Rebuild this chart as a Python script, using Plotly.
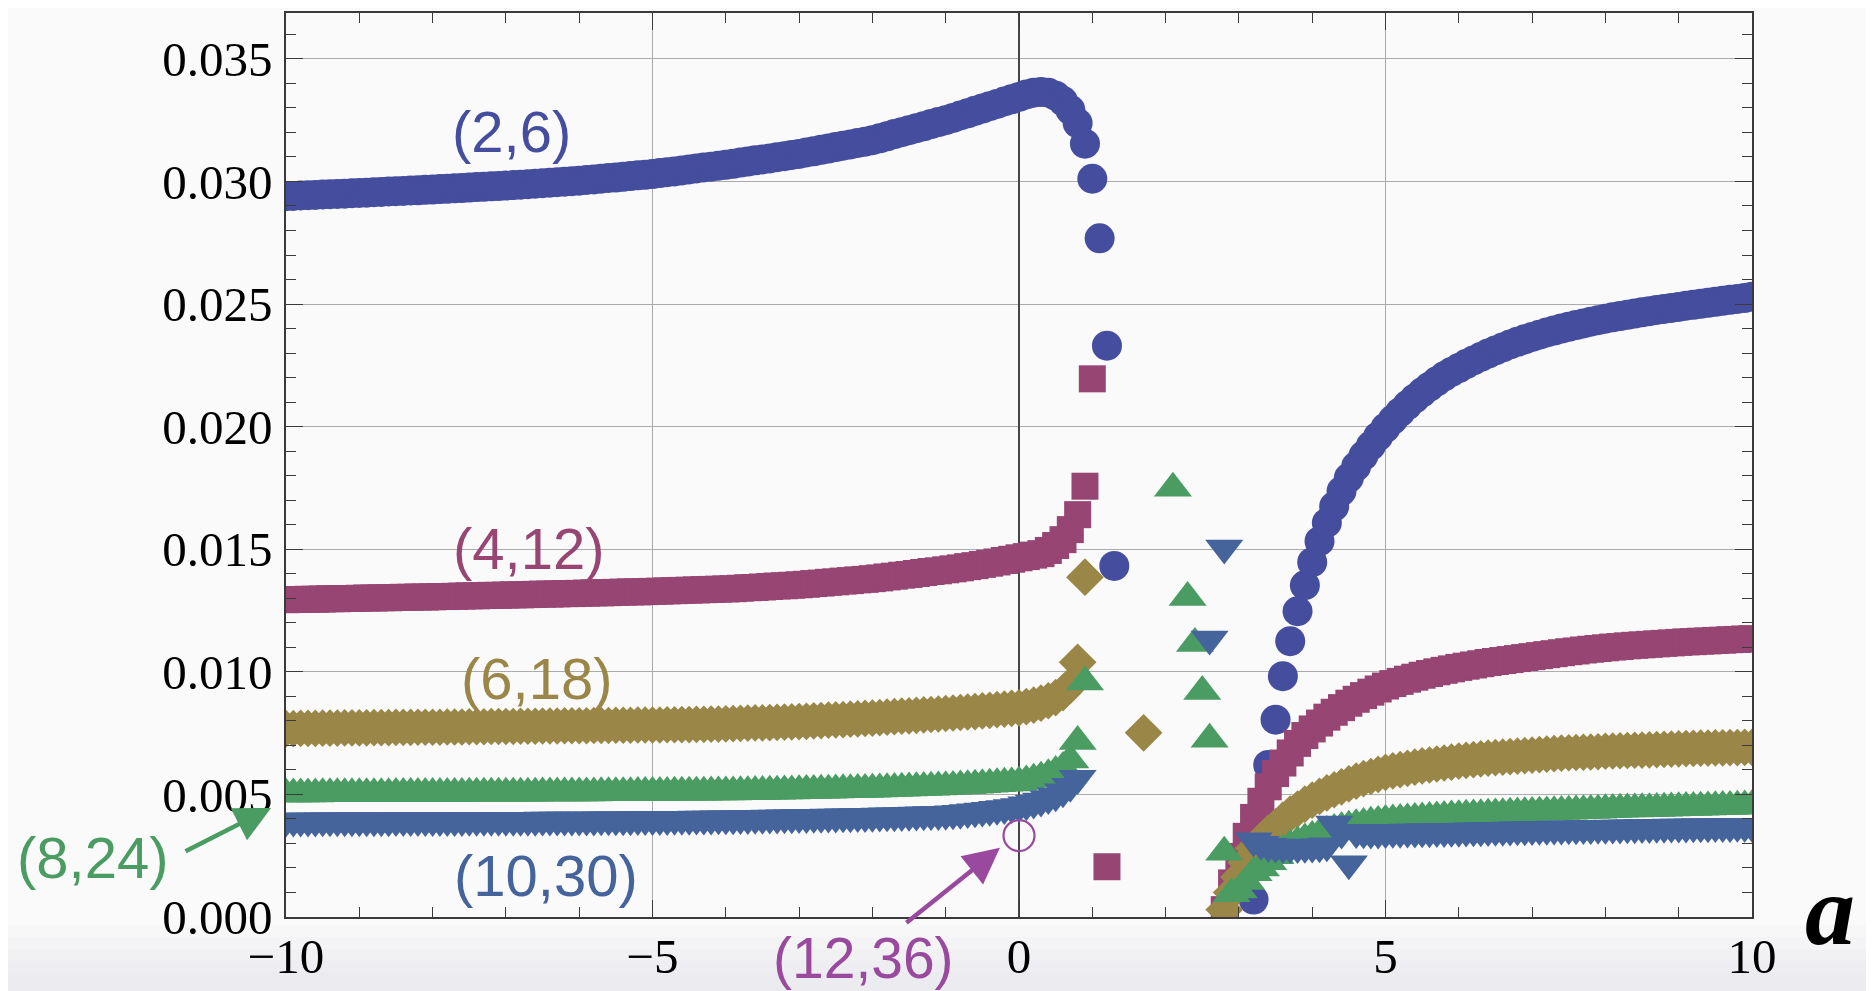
import plotly.graph_objects as go

# ---------------- data ----------------
# sampling grid of the parameter a (step 0.1, from -10 to 10)
a_grid = [round(-10 + 0.1 * i, 1) for i in range(201)]

# (2,6)  circles
n2_6 = [
    0.02940, 0.02941, 0.02943, 0.02944, 0.02945, 0.02947, 0.02948, 0.02949, 0.02950, 0.02952,
    0.02953, 0.02954, 0.02956, 0.02957, 0.02959, 0.02960, 0.02961, 0.02963, 0.02964, 0.02966,
    0.02967, 0.02969, 0.02970, 0.02972, 0.02973, 0.02975, 0.02977, 0.02978, 0.02980, 0.02981,
    0.02983, 0.02985, 0.02987, 0.02989, 0.02991, 0.02993, 0.02995, 0.02997, 0.02999, 0.03001,
    0.03003, 0.03006, 0.03008, 0.03011, 0.03014, 0.03016, 0.03019, 0.03022, 0.03025, 0.03027,
    0.03030, 0.03034, 0.03038, 0.03041, 0.03045, 0.03049, 0.03053, 0.03057, 0.03060, 0.03064,
    0.03068, 0.03072, 0.03077, 0.03081, 0.03086, 0.03090, 0.03094, 0.03099, 0.03103, 0.03108,
    0.03112, 0.03118, 0.03123, 0.03129, 0.03134, 0.03140, 0.03146, 0.03151, 0.03157, 0.03162,
    0.03168, 0.03176, 0.03184, 0.03193, 0.03201, 0.03209, 0.03217, 0.03225, 0.03234, 0.03242,
    0.03250, 0.03259, 0.03269, 0.03278, 0.03288, 0.03297, 0.03307, 0.03316, 0.03326, 0.03335,
    0.03345, 0.03355, 0.03362, 0.03365, 0.03362, 0.03350, 0.03328, 0.03292, 0.03238, 0.03154,
    0.03011, 0.02768, 0.02330, 0.01432, None, None, None, None, None, None,
    None, None, None, None, None, None, None, None, None, None,
    None, None, 0.00071, 0.00400, 0.00620, 0.00805, 0.00982, 0.01125, 0.01247, 0.01353,
    0.01447, 0.01533, 0.01608, 0.01675, 0.01737, 0.01791, 0.01838, 0.01882, 0.01922, 0.01960,
    0.01995, 0.02028, 0.02059, 0.02088, 0.02115, 0.02140, 0.02163, 0.02185, 0.02205, 0.02223,
    0.02239, 0.02255, 0.02270, 0.02284, 0.02298, 0.02311, 0.02323, 0.02335, 0.02346, 0.02356,
    0.02366, 0.02375, 0.02384, 0.02392, 0.02400, 0.02407, 0.02414, 0.02421, 0.02428, 0.02434,
    0.02440, 0.02446, 0.02451, 0.02456, 0.02461, 0.02466, 0.02471, 0.02476, 0.02480, 0.02484,
    0.02488, 0.02493, 0.02497, 0.02501, 0.02505, 0.02509, 0.02513, 0.02517, 0.02521, 0.02525,
    0.02530,
]

# (4,12)  squares
n4_12 = [
    0.01294, 0.01295, 0.01295, 0.01296, 0.01296, 0.01297, 0.01298, 0.01298, 0.01299, 0.01299,
    0.01300, 0.01301, 0.01301, 0.01302, 0.01302, 0.01303, 0.01304, 0.01304, 0.01305, 0.01305,
    0.01306, 0.01307, 0.01307, 0.01308, 0.01309, 0.01310, 0.01310, 0.01311, 0.01312, 0.01312,
    0.01313, 0.01314, 0.01314, 0.01315, 0.01316, 0.01317, 0.01317, 0.01318, 0.01319, 0.01319,
    0.01320, 0.01321, 0.01322, 0.01322, 0.01323, 0.01324, 0.01325, 0.01326, 0.01326, 0.01327,
    0.01328, 0.01329, 0.01330, 0.01331, 0.01332, 0.01333, 0.01334, 0.01335, 0.01336, 0.01337,
    0.01338, 0.01339, 0.01341, 0.01343, 0.01344, 0.01346, 0.01348, 0.01350, 0.01351, 0.01353,
    0.01355, 0.01357, 0.01360, 0.01362, 0.01365, 0.01367, 0.01370, 0.01372, 0.01375, 0.01377,
    0.01380, 0.01383, 0.01387, 0.01390, 0.01394, 0.01397, 0.01401, 0.01405, 0.01409, 0.01412,
    0.01416, 0.01420, 0.01424, 0.01429, 0.01433, 0.01438, 0.01443, 0.01448, 0.01454, 0.01459,
    0.01465, 0.01470, 0.01476, 0.01482, 0.01495, 0.01515, 0.01539, 0.01580, 0.01641, 0.01757,
    0.02195, None, 0.00205, None, None, None, None, None, None, None,
    None, None, None, None, None, None, None, None, 0.00030, 0.00139,
    0.00247, 0.00329, 0.00406, 0.00472, 0.00531, 0.00585, 0.00628, 0.00669, 0.00708, 0.00740,
    0.00767, 0.00791, 0.00815, 0.00835, 0.00854, 0.00872, 0.00888, 0.00903, 0.00917, 0.00930,
    0.00942, 0.00952, 0.00961, 0.00970, 0.00978, 0.00986, 0.00993, 0.01000, 0.01006, 0.01012,
    0.01018, 0.01023, 0.01028, 0.01033, 0.01038, 0.01042, 0.01046, 0.01050, 0.01054, 0.01058,
    0.01062, 0.01066, 0.01070, 0.01074, 0.01078, 0.01082, 0.01085, 0.01089, 0.01092, 0.01095,
    0.01098, 0.01101, 0.01103, 0.01106, 0.01108, 0.01110, 0.01112, 0.01114, 0.01116, 0.01118,
    0.01120, 0.01122, 0.01123, 0.01125, 0.01126, 0.01128, 0.01129, 0.01131, 0.01132, 0.01134,
    0.01135,
]

# (6,18)  diamonds
n6_18 = [
    0.00768, 0.00768, 0.00769, 0.00769, 0.00769, 0.00770, 0.00770, 0.00770, 0.00771, 0.00771,
    0.00771, 0.00771, 0.00772, 0.00772, 0.00772, 0.00773, 0.00773, 0.00773, 0.00774, 0.00774,
    0.00774, 0.00774, 0.00775, 0.00775, 0.00775, 0.00776, 0.00776, 0.00776, 0.00777, 0.00777,
    0.00777, 0.00777, 0.00778, 0.00778, 0.00778, 0.00779, 0.00779, 0.00779, 0.00780, 0.00780,
    0.00780, 0.00780, 0.00781, 0.00781, 0.00781, 0.00782, 0.00782, 0.00782, 0.00783, 0.00783,
    0.00783, 0.00783, 0.00784, 0.00784, 0.00785, 0.00785, 0.00786, 0.00786, 0.00787, 0.00787,
    0.00788, 0.00789, 0.00790, 0.00791, 0.00792, 0.00792, 0.00793, 0.00794, 0.00795, 0.00796,
    0.00797, 0.00798, 0.00800, 0.00801, 0.00803, 0.00804, 0.00805, 0.00807, 0.00808, 0.00810,
    0.00811, 0.00813, 0.00815, 0.00817, 0.00819, 0.00820, 0.00822, 0.00824, 0.00826, 0.00828,
    0.00830, 0.00832, 0.00834, 0.00836, 0.00838, 0.00841, 0.00843, 0.00846, 0.00848, 0.00851,
    0.00853, 0.00858, 0.00864, 0.00872, 0.00882, 0.00895, 0.00915, 0.00945, 0.01039, 0.01386,
    None, None, None, None, None, None, None, 0.00751, None, None,
    None, None, None, None, None, None, None, None, 0.00030, 0.00100,
    0.00163, 0.00222, 0.00280, 0.00312, 0.00342, 0.00368, 0.00395, 0.00420, 0.00440, 0.00460,
    0.00477, 0.00492, 0.00506, 0.00519, 0.00531, 0.00543, 0.00554, 0.00564, 0.00573, 0.00582,
    0.00590, 0.00596, 0.00601, 0.00606, 0.00611, 0.00616, 0.00620, 0.00624, 0.00628, 0.00632,
    0.00636, 0.00639, 0.00642, 0.00645, 0.00648, 0.00650, 0.00652, 0.00654, 0.00656, 0.00658,
    0.00660, 0.00662, 0.00664, 0.00666, 0.00668, 0.00670, 0.00671, 0.00672, 0.00673, 0.00674,
    0.00676, 0.00677, 0.00678, 0.00679, 0.00680, 0.00681, 0.00682, 0.00683, 0.00684, 0.00685,
    0.00686, 0.00687, 0.00688, 0.00689, 0.00689, 0.00690, 0.00690, 0.00691, 0.00691, 0.00692,
    0.00692,
]

# (8,24)  up-triangles
n8_24 = [
    0.00502, 0.00502, 0.00502, 0.00502, 0.00502, 0.00503, 0.00503, 0.00503, 0.00503, 0.00503,
    0.00503, 0.00503, 0.00503, 0.00503, 0.00503, 0.00504, 0.00504, 0.00504, 0.00504, 0.00504,
    0.00504, 0.00504, 0.00504, 0.00504, 0.00504, 0.00505, 0.00505, 0.00505, 0.00505, 0.00505,
    0.00505, 0.00505, 0.00505, 0.00505, 0.00505, 0.00506, 0.00506, 0.00506, 0.00506, 0.00506,
    0.00506, 0.00506, 0.00506, 0.00507, 0.00507, 0.00507, 0.00507, 0.00507, 0.00508, 0.00508,
    0.00508, 0.00508, 0.00508, 0.00509, 0.00509, 0.00509, 0.00509, 0.00509, 0.00510, 0.00510,
    0.00510, 0.00510, 0.00511, 0.00511, 0.00512, 0.00512, 0.00513, 0.00513, 0.00514, 0.00514,
    0.00515, 0.00516, 0.00516, 0.00517, 0.00517, 0.00518, 0.00519, 0.00519, 0.00520, 0.00520,
    0.00521, 0.00522, 0.00523, 0.00524, 0.00525, 0.00526, 0.00527, 0.00528, 0.00529, 0.00530,
    0.00531, 0.00532, 0.00534, 0.00535, 0.00537, 0.00539, 0.00541, 0.00543, 0.00545, 0.00547,
    0.00550, 0.00555, 0.00562, 0.00570, 0.00580, 0.00593, 0.00610, 0.00640, 0.00716, 0.00958,
    None, None, None, None, None, None, None, None, None, None,
    None, 0.01749, None, 0.01303, 0.01115, 0.00920, 0.00725, None, 0.00264, 0.00095,
    0.00110, 0.00145, 0.00180, 0.00200, 0.00225, 0.00250, 0.00273, 0.00293, 0.00307, 0.00318,
    0.00328, 0.00340, 0.00349, 0.00357, 0.00364, 0.00370, 0.00376, 0.00381, 0.00386, 0.00390,
    0.00394, 0.00396, 0.00398, 0.00400, 0.00402, 0.00404, 0.00406, 0.00408, 0.00410, 0.00412,
    0.00413, 0.00415, 0.00416, 0.00417, 0.00419, 0.00420, 0.00421, 0.00423, 0.00424, 0.00425,
    0.00426, 0.00427, 0.00428, 0.00429, 0.00430, 0.00431, 0.00432, 0.00433, 0.00434, 0.00435,
    0.00437, 0.00438, 0.00439, 0.00440, 0.00440, 0.00441, 0.00442, 0.00443, 0.00444, 0.00445,
    0.00446, 0.00447, 0.00447, 0.00448, 0.00449, 0.00450, 0.00451, 0.00451, 0.00452, 0.00453,
    0.00454,
]

# (10,30)  down-triangles
n10_30 = [
    0.00392, 0.00392, 0.00392, 0.00392, 0.00392, 0.00393, 0.00393, 0.00393, 0.00393, 0.00393,
    0.00393, 0.00393, 0.00393, 0.00393, 0.00393, 0.00394, 0.00394, 0.00394, 0.00394, 0.00394,
    0.00394, 0.00394, 0.00394, 0.00394, 0.00394, 0.00395, 0.00395, 0.00395, 0.00395, 0.00395,
    0.00395, 0.00395, 0.00395, 0.00395, 0.00395, 0.00396, 0.00396, 0.00396, 0.00396, 0.00396,
    0.00396, 0.00396, 0.00396, 0.00397, 0.00397, 0.00397, 0.00397, 0.00397, 0.00398, 0.00398,
    0.00398, 0.00398, 0.00398, 0.00399, 0.00399, 0.00399, 0.00400, 0.00400, 0.00400, 0.00401,
    0.00401, 0.00401, 0.00402, 0.00402, 0.00403, 0.00403, 0.00404, 0.00404, 0.00405, 0.00405,
    0.00406, 0.00406, 0.00407, 0.00407, 0.00408, 0.00408, 0.00409, 0.00409, 0.00410, 0.00410,
    0.00411, 0.00412, 0.00413, 0.00413, 0.00414, 0.00415, 0.00416, 0.00417, 0.00418, 0.00418,
    0.00419, 0.00421, 0.00423, 0.00426, 0.00429, 0.00432, 0.00435, 0.00439, 0.00443, 0.00447,
    0.00451, 0.00458, 0.00465, 0.00473, 0.00483, 0.00495, 0.00511, 0.00533, 0.00566, None,
    None, None, None, None, None, None, None, None, None, None,
    None, None, None, None, None, None, 0.01134, None, 0.01505, None,
    None, None, 0.00311, 0.00297, 0.00289, 0.00285, 0.00283, 0.00283, 0.00283, 0.00284,
    0.00285, 0.00287, 0.00291, 0.00379, 0.00343, 0.00217, 0.00345, 0.00344, 0.00343, 0.00343,
    0.00345, 0.00346, 0.00346, 0.00347, 0.00347, 0.00348, 0.00348, 0.00349, 0.00349, 0.00350,
    0.00350, 0.00351, 0.00352, 0.00352, 0.00353, 0.00354, 0.00354, 0.00355, 0.00356, 0.00356,
    0.00357, 0.00358, 0.00358, 0.00359, 0.00359, 0.00360, 0.00360, 0.00361, 0.00361, 0.00362,
    0.00362, 0.00363, 0.00363, 0.00364, 0.00364, 0.00365, 0.00365, 0.00366, 0.00366, 0.00367,
    0.00367, 0.00367, 0.00368, 0.00368, 0.00368, 0.00369, 0.00369, 0.00369, 0.00370, 0.00370,
    0.00370,
]

# (12,36)  single open point
n12_36_a = [0.0]
n12_36 = [0.00332]

for s in (n2_6, n4_12, n6_18, n8_24, n10_30):
    assert len(s) == len(a_grid), len(s)

series_labels = ["(2,6)", "(4,12)", "(6,18)", "(8,24)", "(10,30)", "(12,36)"]
x_ticks = [-10, -5, 0, 5, 10]

# ---------------- style ----------------
C_BLUE = "#454d9e"
C_PURPLE = "#974573"
C_OLIVE = "#9a8748"
C_GREEN = "#4b9c62"
C_STEEL = "#44649b"
C_MAG = "#9a4a9e"
BG = "#fafafa"
FRAME = "#3a3a3a"

fig = go.Figure()

specs = [
    (n2_6, "circle", 30, C_BLUE),
    (n4_12, "square", 27, C_PURPLE),
    (n6_18, "diamond", 29, C_OLIVE),
    (n8_24, "triangle-up", 33, C_GREEN),
    (n10_30, "triangle-down", 33, C_STEEL),
]
for vals, sym, size, col in specs:
    fig.add_trace(go.Scatter(
        x=a_grid, y=vals, mode="markers",
        marker=dict(symbol=sym, size=size, color=col, line=dict(width=0)),
        hoverinfo="skip", showlegend=False,
    ))

fig.add_trace(go.Scatter(
    x=n12_36_a, y=n12_36, mode="markers",
    marker=dict(symbol="circle-open", size=31, color=C_MAG, line=dict(width=2.2, color=C_MAG)),
    hoverinfo="skip", showlegend=False,
))

tick_font = dict(family="Liberation Serif, Times New Roman, serif", size=49, color="black")

fig.update_xaxes(
    range=[-10, 10], tickmode="array", tickvals=x_ticks,
    showline=True, linecolor=FRAME, linewidth=1.6, mirror="allticks",
    ticks="inside", ticklen=17, tickwidth=1.4, tickcolor=FRAME,
    showgrid=True, gridcolor="#ababab", gridwidth=1.3,
    zeroline=True, zerolinecolor="#454545", zerolinewidth=1.6,
    tickfont=tick_font, ticklabelstandoff=-5, automargin=False,
    minor=dict(tickmode="linear", tick0=0, dtick=1, ticks="inside", ticklen=10,
               tickwidth=1.4, tickcolor=FRAME, showgrid=False),
)
fig.update_yaxes(
    range=[0, 0.03687], tick0=0, dtick=0.005, tickformat=".3f",
    showline=True, linecolor=FRAME, linewidth=1.6, mirror="allticks",
    ticks="inside", ticklen=17, tickwidth=1.4, tickcolor=FRAME,
    showgrid=True, gridcolor="#ababab", gridwidth=1.3,
    zeroline=False,
    tickfont=tick_font, ticklabelstandoff=2, automargin=False,
    minor=dict(tick0=0, dtick=0.001, ticks="inside", ticklen=10,
               tickwidth=1.4, tickcolor=FRAME, showgrid=False),
)

lab_font = "Liberation Sans, Arial, sans-serif"
# labels inside the plotting range (data coordinates)
annotations = [
    dict(x=-6.92, y=0.03205, text=series_labels[0], font=dict(family=lab_font, size=58, color=C_BLUE)),
    dict(x=-6.69, y=0.01503, text=series_labels[1], font=dict(family=lab_font, size=58, color=C_PURPLE)),
    dict(x=-6.58, y=0.00973, text=series_labels[2], font=dict(family=lab_font, size=58, color=C_OLIVE)),
    dict(x=-6.45, y=0.00169, text=series_labels[4], font=dict(family=lab_font, size=58, color=C_STEEL)),
]
for an in annotations:
    an.update(xref="x", yref="y", showarrow=False, xanchor="center", yanchor="middle")

# labels outside the frame (paper coordinates)
annotations.append(dict(x=-0.1317, y=0.066, xref="paper", yref="paper", text=series_labels[3],
                        showarrow=False, xanchor="center", yanchor="middle",
                        font=dict(family=lab_font, size=58, color=C_GREEN)))
annotations.append(dict(x=0.3936, y=-0.0455, xref="paper", yref="paper", text=series_labels[5],
                        showarrow=False, xanchor="center", yanchor="middle",
                        font=dict(family=lab_font, size=57, color=C_MAG)))

# arrows (tail offsets in pixels)
annotations.append(dict(
    x=-0.0102, y=0.1206, xref="paper", yref="paper", ax=-87, ay=44,
    text="", showarrow=True, arrowhead=2, arrowsize=1.6, arrowwidth=4.5, arrowcolor=C_GREEN,
    standoff=0, startstandoff=0,
))
annotations.append(dict(
    x=-0.26, y=0.00282, xref="x", yref="y", ax=-95, ay=76,
    text="", showarrow=True, arrowhead=2, arrowsize=1.6, arrowwidth=4.5, arrowcolor=C_MAG,
    standoff=0, startstandoff=0,
))
# axis label "a"
annotations.append(dict(
    x=1.053, y=0.007, xref="paper", yref="paper", text="<b><i>a</i></b>", showarrow=False,
    xanchor="center", yanchor="middle",
    font=dict(family="Liberation Serif, Times New Roman, serif", size=100, color="black"),
))

# subtle bottom shading of the page
shapes = []
for y0 in (-0.009, -0.022, -0.035, -0.048, -0.061):
    shapes.append(dict(type="rect", xref="paper", yref="paper", x0=-0.3, x1=1.2,
                       y0=-0.2, y1=y0, line=dict(width=0),
                       fillcolor="rgba(185,195,210,0.045)", layer="below"))

# the page body adds an 8px offset; size the figure so the frame lands where it should
fig.update_layout(
    width=1866, height=983,
    margin=dict(l=278, r=122, t=5, b=74),
    paper_bgcolor=BG, plot_bgcolor=BG,
    showlegend=False,
    annotations=annotations,
    shapes=shapes,
)

fig.write_html("out.html")
